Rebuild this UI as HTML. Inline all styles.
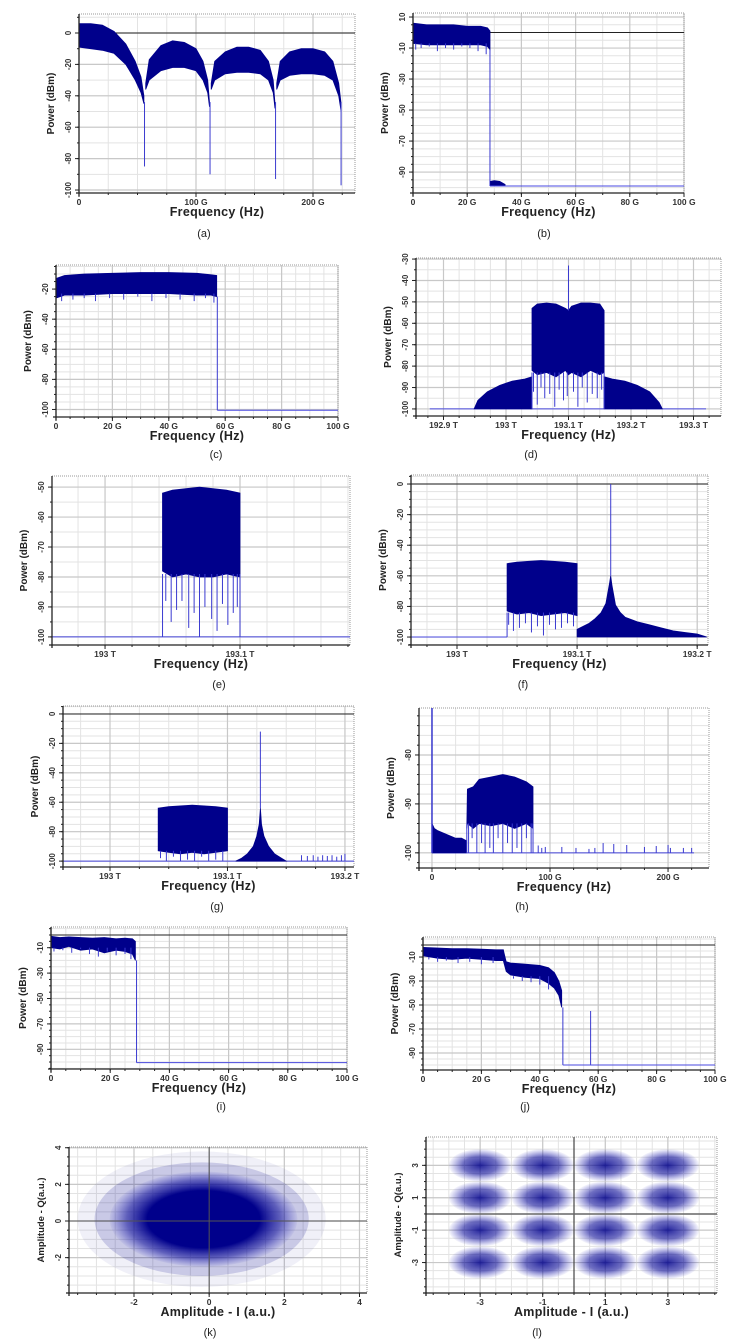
<!DOCTYPE html>
<html><head><meta charset="utf-8"><style>
html,body{margin:0;padding:0;background:#fff}
svg{display:block}
text{font-family:"Liberation Sans",Arial,sans-serif}
</style></head><body>
<svg id="fig" width="739" height="1339" viewBox="0 0 739 1339" xmlns="http://www.w3.org/2000/svg">
<defs>
<radialGradient id="blob" cx="50%" cy="50%" r="50%">
<stop offset="0" stop-color="#00008b" stop-opacity="0.85"/>
<stop offset="0.55" stop-color="#10109a" stop-opacity="0.6"/>
<stop offset="1" stop-color="#3030c0" stop-opacity="0.04"/>
</radialGradient>
<radialGradient id="cloud" cx="50%" cy="50%" r="50%">
<stop offset="0" stop-color="#00008b" stop-opacity="1"/>
<stop offset="0.6" stop-color="#00008b" stop-opacity="1"/>
<stop offset="0.82" stop-color="#1a1aa0" stop-opacity="0.6"/>
<stop offset="1" stop-color="#3030c0" stop-opacity="0.05"/>
</radialGradient>
</defs>
</svg>
<script>
// ---------- DATA ----------
// (a)
const aTickX=[0,100,200]; const aTickXLab=['0','100 G','200 G'];
const aTickY=[0,-20,-40,-60,-80,-100]; const aTickYLab=['0','-20','-40','-60','-80','-100'];
const aL1F=[0,10,20,30,40,48,53,55.5]; const aL1Top=[6,6,5,1,-7,-18,-28,-40]; const aL1Bot=[-9,-10,-11,-13,-20,-30,-38,-45];
const aL2F=[57,60,70,80,90,100,106,110,111.5]; const aL2Top=[-32,-17,-8,-5,-6,-10,-18,-30,-44]; const aL2Bot=[-36,-30,-24,-22,-22,-24,-30,-38,-47];
const aL3F=[113,116,125,135,145,155,162,166,167.5]; const aL3Top=[-32,-18,-12,-9,-9,-11,-18,-30,-45]; const aL3Bot=[-36,-30,-26,-25,-25,-26,-30,-38,-48];
const aL4F=[169,172,180,190,200,210,217,222,224]; const aL4Top=[-32,-18,-12,-10,-10,-12,-18,-32,-45]; const aL4Bot=[-36,-30,-27,-26,-26,-27,-30,-40,-50];
const aNullF=[56,112,168,224]; const aNullV=[-85,-90,-93,-97];
// (b)
const gTickX100=[0,20,40,60,80,100]; const gTickX100Lab=['0','20 G','40 G','60 G','80 G','100 G'];
const bTickY=[10,-10,-30,-50,-70,-90]; const bTickYLab=['10','-10','-30','-50','-70','-90'];
const bBandF=[0,5,10,15,20,25,27.5,28.4]; const bBandTop=[6,5,5,5,4,4,3,1]; const bBandBot=[-7,-8,-8,-8,-8,-8,-9,-11];
const bDipF=[1,3,6,9,12,15,18,21,24,27]; const bDipV=[-11,-10,-9,-12,-10,-11,-9,-10,-12,-14];
const bDropF=[28.4]; const bDropV=[-99];
const bNoiseF=[28.6,30,32,34]; const bNoiseTop=[-96,-95.5,-96,-98]; const bNoiseBot=[-99,-99,-99,-99];
const bFloor=[28.4,100,-99];
// (c)
const cTickY=[-20,-40,-60,-80,-100]; const cTickYLab=['-20','-40','-60','-80','-100'];
const cBandF=[0,3,10,20,30,40,50,55,57]; const cBandTop=[-13,-11,-10,-9.5,-9,-9,-9.5,-10.5,-11]; const cBandBot=[-26,-24,-24,-23,-23,-23,-24,-24,-25];
const cDipF=[2,6,10,14,19,24,29,34,39,44,49,53,56]; const cDipV=[-28,-27,-26,-28,-26,-27,-25,-28,-26,-27,-28,-26,-29];
const cDropF=[57.2]; const cDropV=[-100.5];
const cFloor=[57.2,100,-100.5];
// (d)
const dTickX=[192.9,193,193.1,193.2,193.3]; const dTickXLab=['192.9 T','193 T','193.1 T','193.2 T','193.3 T'];
const dTickY=[-30,-40,-50,-60,-70,-80,-90,-100]; const dTickYLab=['-30','-40','-50','-60','-70','-80','-90','-100'];
const dPedLF=[192.949,192.955,192.97,192.99,193.01,193.03,193.0416]; const dPedLTop=[-100,-96,-92,-89,-87,-86,-85]; const dPedLBot=[-100,-100,-100,-100,-100,-100,-100];
const dMainF=[193.0416,193.05,193.065,193.08,193.095,193.1,193.105,193.12,193.135,193.15,193.157];
const dMainTop=[-53,-51,-50.5,-51,-53,-54,-52,-50.5,-50.5,-51,-54];
const dMainBot=[-82,-84,-83,-85,-82,-84,-83,-85,-82,-84,-83];
const dDipF=[193.044,193.05,193.056,193.062,193.07,193.078,193.085,193.092,193.098,193.108,193.115,193.122,193.13,193.138,193.146,193.153];
const dDipV=[-92,-98,-90,-95,-93,-99,-91,-96,-94,-92,-99,-90,-97,-93,-95,-91];
const dPedRF=[193.157,193.17,193.19,193.21,193.23,193.245,193.25]; const dPedRTop=[-85,-86,-87,-89,-92,-97,-100]; const dPedRBot=[-100,-100,-100,-100,-100,-100,-100];
const dCarF=[193.1]; const dCarV=[-33];
const dFloor=[192.878,193.32,-100];
// (e)
const eTickX=[193,193.1]; const eTickXLab=['193 T','193.1 T'];
const eTickY=[-50,-60,-70,-80,-90,-100]; const eTickYLab=['-50','-60','-70','-80','-90','-100'];
const eBandF=[193.0426,193.05,193.06,193.07,193.08,193.09,193.1]; const eBandTop=[-52,-51,-50.5,-50,-50.5,-51,-52]; const eBandBot=[-78,-80,-79,-80,-80,-79,-80];
const eDipF=[193.045,193.049,193.053,193.057,193.062,193.066,193.07,193.074,193.079,193.083,193.087,193.091,193.095,193.098];
const eDipV=[-88,-95,-91,-88,-97,-92,-100,-90,-94,-98,-89,-96,-92,-90];
const eEdgeF=[193.0426,193.1]; const eEdgeV=[-100,-100];
const eFloor=[192.9607,193.1815,-100];
// (f)
const fTickX=[193,193.1,193.2]; const fTickXLab=['193 T','193.1 T','193.2 T'];
const fTickY=[0,-20,-40,-60,-80,-100]; const fTickYLab=['0','-20','-40','-60','-80','-100'];
const fBandF=[193.0417,193.05,193.06,193.07,193.08,193.09,193.1]; const fBandTop=[-52,-51,-50.5,-50,-50.5,-51,-52]; const fBandBot=[-83,-85,-84,-86,-85,-84,-86];
const fDipF=[193.043,193.047,193.052,193.057,193.062,193.067,193.072,193.077,193.082,193.087,193.092,193.097];
const fDipV=[-92,-96,-94,-91,-97,-93,-99,-92,-95,-94,-91,-93];
const fSkirtF=[193.1,193.105,193.11,193.115,193.12,193.124,193.127,193.128,193.129,193.132,193.136,193.14,193.15,193.16,193.17,193.18,193.19,193.2,193.208];
const fSkirtTop=[-95,-93,-91,-88,-84,-78,-65,-60,-66,-79,-84,-87,-90,-92,-94,-96,-97,-98,-100];
const fSkirtBot=fSkirtF.map(()=>-100);
const fCarF=[193.128]; const fCarV=[0];
const fFloor=[192.9617,193.0417,-100];
// (g)
const gTickY=[0,-20,-40,-60,-80,-100]; const gTickYLab=['0','-20','-40','-60','-80','-100'];
const gBandF=[193.041,193.05,193.06,193.07,193.08,193.09,193.1]; const gBandTop=[-64,-63,-62.5,-62,-62.5,-63,-64]; const gBandBot=[-93,-94,-95,-94,-95,-94,-93];
const gDipF=[193.043,193.048,193.054,193.06,193.066,193.072,193.078,193.084,193.09,193.096]; const gDipV=[-98,-100,-97,-100,-99,-100,-97,-100,-99,-100];
const gSkirtF=[193.107,193.112,193.117,193.122,193.125,193.127,193.128,193.129,193.131,193.135,193.14,193.146,193.15];
const gSkirtTop=[-100,-98,-95,-90,-83,-75,-64,-75,-83,-90,-95,-98,-100];
const gSkirtBot=gSkirtF.map(()=>-100);
const gCarF=[193.128]; const gCarV=[-12];
const gSmF=[193.163,193.168,193.173,193.177,193.181,193.185,193.189,193.193,193.197,193.2]; const gSmV=[-96,-96.5,-96,-97,-96,-96.5,-96,-97,-96,-95];
const gFloor=[192.96,193.2077,-100];
// (h)
const hTickX=[0,100,200]; const hTickXLab=['0','100 G','200 G'];
const hTickY=[-80,-90,-100]; const hTickYLab=['-80','-90','-100'];
const hLowF=[0,2,5,10,15,20,25,29]; const hLowTop=[-94,-95,-95.5,-96,-96.5,-97,-97,-97.5]; const hLowBot=[-100,-100,-100,-100,-100,-100,-100,-100];
const hMainF=[29.5,30,35,40,50,60,70,80,85.6]; const hMainTop=[-95,-87,-86.5,-85,-84.5,-84,-84.5,-85.5,-86.5]; const hMainBot=[-95,-94,-95,-94,-94.5,-94,-95,-94,-95];
const hDipF=[31,34,38,42,45,49,52,56,60,64,68,72,76,80,84]; const hDipV=[-100,-97,-100,-98,-100,-99,-100,-97,-100,-98,-100,-99,-100,-97,-100];
const hDcF=[0]; const hDcV=[-70.4];
const hSmF=[90,93,96,110,122,133,138,145,154,165,180,190,200,202,213,220];
const hSmV=[-98.5,-99,-98.8,-98.8,-99,-99.2,-99,-98,-98.2,-98.4,-98.8,-98.6,-98.4,-99,-99,-99];
const hFloor=[0,222,-100];
// (i)
const ijTickY=[-10,-30,-50,-70,-90]; const ijTickYLab=['-10','-30','-50','-70','-90'];
const iBandF=[0,3,6,10,14,18,22,25,27.5,28.5]; const iBandTop=[-1,-2,-1.5,-2,-2.5,-2,-3,-2.5,-3,-5]; const iBandBot=[-10,-11,-9,-12,-11,-14,-12,-13,-15,-20];
const iDipF=[1,4,7,10,13,16,19,22,25,27]; const iDipV=[-13,-12,-14,-11,-15,-17,-13,-16,-15,-19];
const iDropF=[28.9]; const iDropV=[-100.5];
const iFloor=[28.9,100,-100.5];
// (j)
const jB1F=[0,5,10,15,20,25,27.5]; const jB1Top=[-2,-2.5,-3,-3,-3.5,-4,-4]; const jB1Bot=[-9,-11,-12,-11,-12,-13,-13];
const jB2F=[27.5,28.5,30,35,40,43,45,46.5,47.5]; const jB2Top=[-4,-14,-15,-16,-17,-19,-23,-30,-38]; const jB2Bot=[-13,-22,-25,-27,-28,-32,-36,-42,-52];
const jDipF=[2,5,8,12,16,20,24,31,34,37,40,43]; const jDipV=[-12,-14,-13,-15,-14,-16,-15,-28,-30,-31,-33,-37];
const jDropF=[47.9]; const jDropV=[-100];
const jToneF=[57.4]; const jToneV=[-55];
const jFloor=[47.9,100,-100];
// (k)
const kTickX=[-2,0,2,4]; const kTickY=[4,2,0,-2];
const kCenterI=[-0.2,-0.2,-0.15]; const kCenterQ=[0.1,0.1,0.1];
const kRadI=[3.3,2.85,2.5]; const kRadQ=[3.7,3.1,2.6]; const kAlpha=[0.06,0.16,1];
// (l)
const lTickX=[-3,-1,1,3]; const lTickY=[3,1,-1,-3];
const lLevelsI=[-3,-1,1,3]; const lLevelsQ=[3,1,-1,-3];
const lSpreadI=[1.0]; const lSpreadQ=[1.0];

// ---------- DRAW ----------
const NS='http://www.w3.org/2000/svg';
const svg=document.getElementById('fig');
function mk(tag,attrs,parent){const e=document.createElementNS(NS,tag);for(const k in attrs)e.setAttribute(k,attrs[k]);(parent||svg).appendChild(e);return e;}
const NAVY='#00008b', LINE='#3a3ad0';

function frame(p){
  const g=mk('g',{});
  
  
  p.g=g;
  p.X=v=>p.x0+(v-p.xmin)/(p.xmax-p.xmin)*(p.x1-p.x0);
  p.Y=v=>p.y1-(v-p.ymin)/(p.ymax-p.ymin)*(p.y1-p.y0);
  const bg=mk('rect',{x:p.x0,y:p.y0,width:p.x1-p.x0,height:p.y1-p.y0,fill:'#fff'},g);
  
  
  const grid=mk('g',{},g);
  
  
  for(let v=Math.ceil(p.xmin/p.xm-1e-9)*p.xm; v<=p.xmax+1e-9; v+=p.xm){const x=p.X(v);mk('line',{x1:x,x2:x,y1:p.y0,y2:p.y1,stroke:'#e3e3e3','stroke-width':1},grid);}
  for(let v=Math.ceil(p.ymin/p.ym-1e-9)*p.ym; v<=p.ymax+1e-9; v+=p.ym){const y=p.Y(v);mk('line',{x1:p.x0,x2:p.x1,y1:y,y2:y,stroke:'#e3e3e3','stroke-width':1},grid);}
  p.xt.forEach(v=>{const x=p.X(v);mk('line',{x1:x,x2:x,y1:p.y0,y2:p.y1,stroke:'#c8c8c8','stroke-width':1.2},grid);});
  p.yt.forEach(v=>{const y=p.Y(v);mk('line',{x1:p.x0,x2:p.x1,y1:y,y2:y,stroke:'#c8c8c8','stroke-width':1.2},grid);});
  mk('path',{d:`M${p.x0},${p.y0}H${p.x1}V${p.y1}`,fill:'none',stroke:'#9a9a9a','stroke-width':1,'stroke-dasharray':'1,1'},g);
}
function axes(p){
  const g=p.g;
  const ax=mk('g',{},g);
  
  
  mk('line',{x1:p.x0,x2:p.x0,y1:p.y0,y2:p.y1+3,stroke:'#222','stroke-width':1.3},ax);
  mk('line',{x1:p.x0-3,x2:p.x1,y1:p.y1,y2:p.y1,stroke:'#222','stroke-width':1.3},ax);
  for(let v=Math.ceil(p.ymin/p.ym-1e-9)*p.ym; v<=p.ymax+1e-9; v+=p.ym){const y=p.Y(v);mk('line',{x1:p.x0-2,x2:p.x0,y1:y,y2:y,stroke:'#222','stroke-width':1},ax);}
  for(let v=Math.ceil(p.xmin/p.xm-1e-9)*p.xm; v<=p.xmax+1e-9; v+=p.xm){const x=p.X(v);mk('line',{x1:x,x2:x,y1:p.y1,y2:p.y1+2,stroke:'#222','stroke-width':1},ax);}
  p.yt.forEach((v,i)=>{const y=p.Y(v);
    mk('line',{x1:p.x0-4,x2:p.x0,y1:y,y2:y,stroke:'#222','stroke-width':1},ax);
    const t=mk('text',{x:p.x0-8,y:y,'font-size':8,'font-weight':'bold',fill:'#333','text-anchor':'middle',transform:`rotate(-90 ${p.x0-8} ${y})`},ax);
    
    
    t.textContent=p.yl[i];});
  p.xt.forEach((v,i)=>{const x=p.X(v);
    mk('line',{x1:x,x2:x,y1:p.y1,y2:p.y1+4,stroke:'#222','stroke-width':1},ax);
    const t=mk('text',{x:x,y:p.y1+12,'font-size':8.5,'font-weight':'bold',fill:'#333','text-anchor':'middle'},ax);
    
    
    t.textContent=p.xl[i];});
  const xt=mk('text',{x:(p.x0+p.x1)/2,y:p.y1+23,'font-size':12.5,'font-weight':'bold',fill:'#222','text-anchor':'middle','letter-spacing':'0.3'},ax);
  
  
  xt.textContent=p.xtitle;
  const yx=p.x0-25, yy=(p.y0+p.y1)/2;
  const yt=mk('text',{x:yx,y:yy,'font-size':p.ytfs||10,'font-weight':'bold',fill:'#222','text-anchor':'middle',transform:`rotate(-90 ${yx} ${yy})`},ax);
  
  
  yt.textContent=p.ytitle;
  const c=mk('text',{x:p.cx,y:p.cy,'font-size':11,fill:'#222','text-anchor':'middle','font-family':'"Liberation Serif",serif'},svg);
  
  
  c.textContent=p.cap;
}
function band(p,F,T,B,name){
  let d='M'+F.map((f,i)=>p.X(f).toFixed(1)+','+p.Y(T[i]).toFixed(1)).join('L');
  for(let i=F.length-1;i>=0;i--) d+='L'+p.X(F[i]).toFixed(1)+','+p.Y(B[i]).toFixed(1);
  const e=mk('path',{d:d+'Z',fill:NAVY,stroke:NAVY,'stroke-width':0.8},p.g);
  
  
}
function spikes(p,F,V,base,name,col,w){
  F.forEach((f,i)=>{const x=p.X(f);
    const e=mk('line',{x1:x,x2:x,y1:p.Y(base),y2:p.Y(V[i]),stroke:col||LINE,'stroke-width':w||1},p.g);
    
    });
}
function floorLine(p,fl,name){
  const e=mk('line',{x1:p.X(fl[0]),x2:p.X(fl[1]),y1:p.Y(fl[2]),y2:p.Y(fl[2]),stroke:'#4a4ae0','stroke-width':1},p.g);
  
  
}
function refLine(p,v){
  const e=mk('line',{x1:p.x0,x2:p.x1,y1:p.Y(v),y2:p.Y(v),stroke:'#222','stroke-width':1},p.g);
  
  
}
const FT='Frequency (Hz)', PT='Power (dBm)';

// (a)
const pa={name:'panel-a',x0:79,x1:355,y0:14,y1:193,xmin:0,xmax:235.9,ymin:-101.9,ymax:12.1,xm:25,ym:10,xt:aTickX,xl:aTickXLab,yt:aTickY,yl:aTickYLab,xtitle:FT,ytitle:PT,cap:'(a)',cx:204,cy:237};
frame(pa); refLine(pa,0);
band(pa,aL1F,aL1Top,aL1Bot,'lobe-1');band(pa,aL2F,aL2Top,aL2Bot,'lobe-2');band(pa,aL3F,aL3Top,aL3Bot,'lobe-3');band(pa,aL4F,aL4Top,aL4Bot,'lobe-4');
spikes(pa,aNullF,aNullV,-44,'null-spike');
axes(pa);
// (b)
const pb={name:'panel-b',x0:413,x1:684,y0:13,y1:193,xmin:0,xmax:100,ymin:-103.5,ymax:12.6,xm:10,ym:5,xt:gTickX100,xl:gTickX100Lab,yt:bTickY,yl:bTickYLab,xtitle:FT,ytitle:PT,cap:'(b)',cx:544,cy:237};
frame(pb); refLine(pb,0);
band(pb,bBandF,bBandTop,bBandBot,'signal-band'); spikes(pb,bDipF,bDipV,-7,'band-dip'); spikes(pb,bDropF,bDropV,-11,'band-edge');
band(pb,bNoiseF,bNoiseTop,bNoiseBot,'noise-band'); floorLine(pb,bFloor,'noise-floor');
axes(pb);
// (c)
const pc={name:'panel-c',x0:56,x1:338,y0:265,y1:417,xmin:0,xmax:100,ymin:-105,ymax:-4,xm:5,ym:5,xt:gTickX100,xl:gTickX100Lab,yt:cTickY,yl:cTickYLab,xtitle:FT,ytitle:PT,cap:'(c)',cx:216,cy:458};
frame(pc);
band(pc,cBandF,cBandTop,cBandBot,'signal-band'); spikes(pc,cDipF,cDipV,-23,'band-dip'); spikes(pc,cDropF,cDropV,-25,'band-edge'); floorLine(pc,cFloor,'noise-floor');
axes(pc);
// (d)
const pd={name:'panel-d',x0:416,x1:721,y0:258,y1:416,xmin:192.856,xmax:193.344,ymin:-103.3,ymax:-29.5,xm:0.025,ym:5,xt:dTickX,xl:dTickXLab,yt:dTickY,yl:dTickYLab,xtitle:FT,ytitle:PT,cap:'(d)',cx:531,cy:458};
frame(pd); floorLine(pd,dFloor,'noise-floor');
band(pd,dPedLF,dPedLTop,dPedLBot,'left-pedestal'); band(pd,dPedRF,dPedRTop,dPedRBot,'right-pedestal');
band(pd,dMainF,dMainTop,dMainBot,'signal-band'); spikes(pd,dDipF,dDipV,-83,'band-dip');
spikes(pd,[dMainF[0],dMainF[dMainF.length-1]],[-100,-100],-83,'band-edge');
spikes(pd,dCarF,dCarV,-54,'carrier');
axes(pd);
// (e)
const pe={name:'panel-e',x0:52,x1:350,y0:476,y1:645,xmin:192.9607,xmax:193.1815,ymin:-102.7,ymax:-46.3,xm:0.02,ym:5,xt:eTickX,xl:eTickXLab,yt:eTickY,yl:eTickYLab,xtitle:FT,ytitle:PT,cap:'(e)',cx:219,cy:688};
frame(pe); floorLine(pe,eFloor,'noise-floor');
band(pe,eBandF,eBandTop,eBandBot,'signal-band'); spikes(pe,eDipF,eDipV,-79,'band-dip'); spikes(pe,eEdgeF,eEdgeV,-79,'band-edge');
axes(pe);
// (f)
const pf={name:'panel-f',x0:411,x1:708,y0:475,y1:645,xmin:192.9617,xmax:193.209,ymin:-105.2,ymax:5.9,xm:0.025,ym:5,xt:fTickX,xl:fTickXLab,yt:fTickY,yl:fTickYLab,xtitle:FT,ytitle:PT,cap:'(f)',cx:523,cy:688};
frame(pf); refLine(pf,0); floorLine(pf,fFloor,'noise-floor');
band(pf,fBandF,fBandTop,fBandBot,'signal-band'); spikes(pf,fDipF,fDipV,-84,'band-dip');
spikes(pf,[fBandF[0]],[-100],-84,'band-edge');
band(pf,fSkirtF,fSkirtTop,fSkirtBot,'carrier-skirt'); spikes(pf,fCarF,fCarV,-60,'carrier');
axes(pf);
// (g)
const pg={name:'panel-g',x0:63,x1:354,y0:706,y1:867,xmin:192.96,xmax:193.2077,ymin:-104,ymax:5.4,xm:0.025,ym:5,xt:fTickX,xl:fTickXLab,yt:gTickY,yl:gTickYLab,xtitle:FT,ytitle:PT,cap:'(g)',cx:217,cy:910};
frame(pg); refLine(pg,0); floorLine(pg,gFloor,'noise-floor');
band(pg,gBandF,gBandTop,gBandBot,'signal-band'); spikes(pg,gDipF,gDipV,-93,'band-dip');
band(pg,gSkirtF,gSkirtTop,gSkirtBot,'carrier-skirt'); spikes(pg,gCarF,gCarV,-64,'carrier');
spikes(pg,gSmF,gSmV,-100,'spur');
axes(pg);
// (h)
const ph={name:'panel-h',x0:419,x1:709,y0:708,y1:868,xmin:-11,xmax:234.7,ymin:-103.1,ymax:-70.4,xm:20,ym:2,xt:hTickX,xl:hTickXLab,yt:hTickY,yl:hTickYLab,xtitle:FT,ytitle:PT,cap:'(h)',cx:522,cy:910};
frame(ph); floorLine(ph,hFloor,'noise-floor');
band(ph,hLowF,hLowTop,hLowBot,'low-band'); band(ph,hMainF,hMainTop,hMainBot,'signal-band');
spikes(ph,hDipF,hDipV,-94,'band-dip'); spikes(ph,[hMainF[0],hMainF[hMainF.length-1]],[-100,-100],-94,'band-edge');
spikes(ph,hDcF,hDcV,-100,'dc-spike',LINE,1.5); spikes(ph,hSmF,hSmV,-100,'spur');
axes(ph);
// (i)
const pi={name:'panel-i',x0:51,x1:347,y0:927,y1:1069,xmin:0,xmax:100,ymin:-105.5,ymax:6.3,xm:5,ym:5,xt:gTickX100,xl:gTickX100Lab,yt:ijTickY,yl:ijTickYLab,xtitle:FT,ytitle:PT,cap:'(i)',cx:221,cy:1110};
frame(pi); refLine(pi,0);
band(pi,iBandF,iBandTop,iBandBot,'signal-band'); spikes(pi,iDipF,iDipV,-10,'band-dip'); spikes(pi,iDropF,iDropV,-20,'band-edge'); floorLine(pi,iFloor,'noise-floor');
axes(pi);
// (j)
const pj={name:'panel-j',x0:423,x1:715,y0:937,y1:1070,xmin:0,xmax:100,ymin:-104.2,ymax:6.7,xm:5,ym:5,xt:gTickX100,xl:gTickX100Lab,yt:ijTickY,yl:ijTickYLab,xtitle:FT,ytitle:PT,cap:'(j)',cx:525,cy:1110};
frame(pj); refLine(pj,0);
band(pj,jB1F,jB1Top,jB1Bot,'signal-band-1'); band(pj,jB2F,jB2Top,jB2Bot,'signal-band-2');
spikes(pj,jDipF.slice(0,7),jDipV.slice(0,7),-10,'band-dip'); spikes(pj,jDipF.slice(7),jDipV.slice(7),-26,'band-dip');
spikes(pj,jDropF,jDropV,-52,'band-edge'); spikes(pj,jToneF,jToneV,-100,'tone'); floorLine(pj,jFloor,'noise-floor');
axes(pj);
// (k)
const pk={name:'panel-k',x0:69,x1:367,y0:1147,y1:1293,xmin:-3.73,xmax:4.2,ymin:-3.93,ymax:4.04,xm:0.5,ym:0.5,xt:kTickX,xl:kTickX.map(String),yt:kTickY,yl:kTickY.map(String),xtitle:'Amplitude - I (a.u.)',ytitle:'Amplitude - Q(a.u.)',ytfs:9.5,cap:'(k)',cx:210,cy:1336};
frame(pk);
kRadI.forEach((r,i)=>{
  const e=mk('ellipse',{cx:pk.X(kCenterI[i]),cy:pk.Y(kCenterQ[i]),rx:pk.X(r)-pk.X(0),ry:pk.Y(0)-pk.Y(kRadQ[i]),fill:i===kRadI.length-1?'url(#cloud)':NAVY,'fill-opacity':kAlpha[i]},pk.g);
  
  
});
mk('line',{x1:pk.X(0),x2:pk.X(0),y1:pk.y0,y2:pk.y1,stroke:'#555','stroke-width':1},pk.g);
mk('line',{x1:pk.x0,x2:pk.x1,y1:pk.Y(0),y2:pk.Y(0),stroke:'#555','stroke-width':1},pk.g);
axes(pk);
// (l)
const pl={name:'panel-l',x0:426,x1:717,y0:1137,y1:1293,xmin:-4.73,xmax:4.57,ymin:-4.88,ymax:4.75,xm:0.5,ym:0.5,xt:lTickX,xl:lTickX.map(String),yt:lTickY,yl:lTickY.map(String),xtitle:'Amplitude - I (a.u.)',ytitle:'Amplitude - Q(a.u.)',ytfs:9.5,cap:'(l)',cx:537,cy:1336};
frame(pl);
lLevelsQ.forEach(q=>lLevelsI.forEach(iv=>{
  const e=mk('ellipse',{cx:pl.X(iv),cy:pl.Y(q),rx:pl.X(lSpreadI[0])-pl.X(0),ry:pl.Y(0)-pl.Y(lSpreadQ[0]),fill:'url(#blob)'},pl.g);
  
  
}));
mk('line',{x1:pl.X(0),x2:pl.X(0),y1:pl.y0,y2:pl.y1,stroke:'#444','stroke-width':1.2},pl.g);
mk('line',{x1:pl.x0,x2:pl.x1,y1:pl.Y(0),y2:pl.Y(0),stroke:'#666','stroke-width':1.5},pl.g);
axes(pl);
</script>
</body></html>
